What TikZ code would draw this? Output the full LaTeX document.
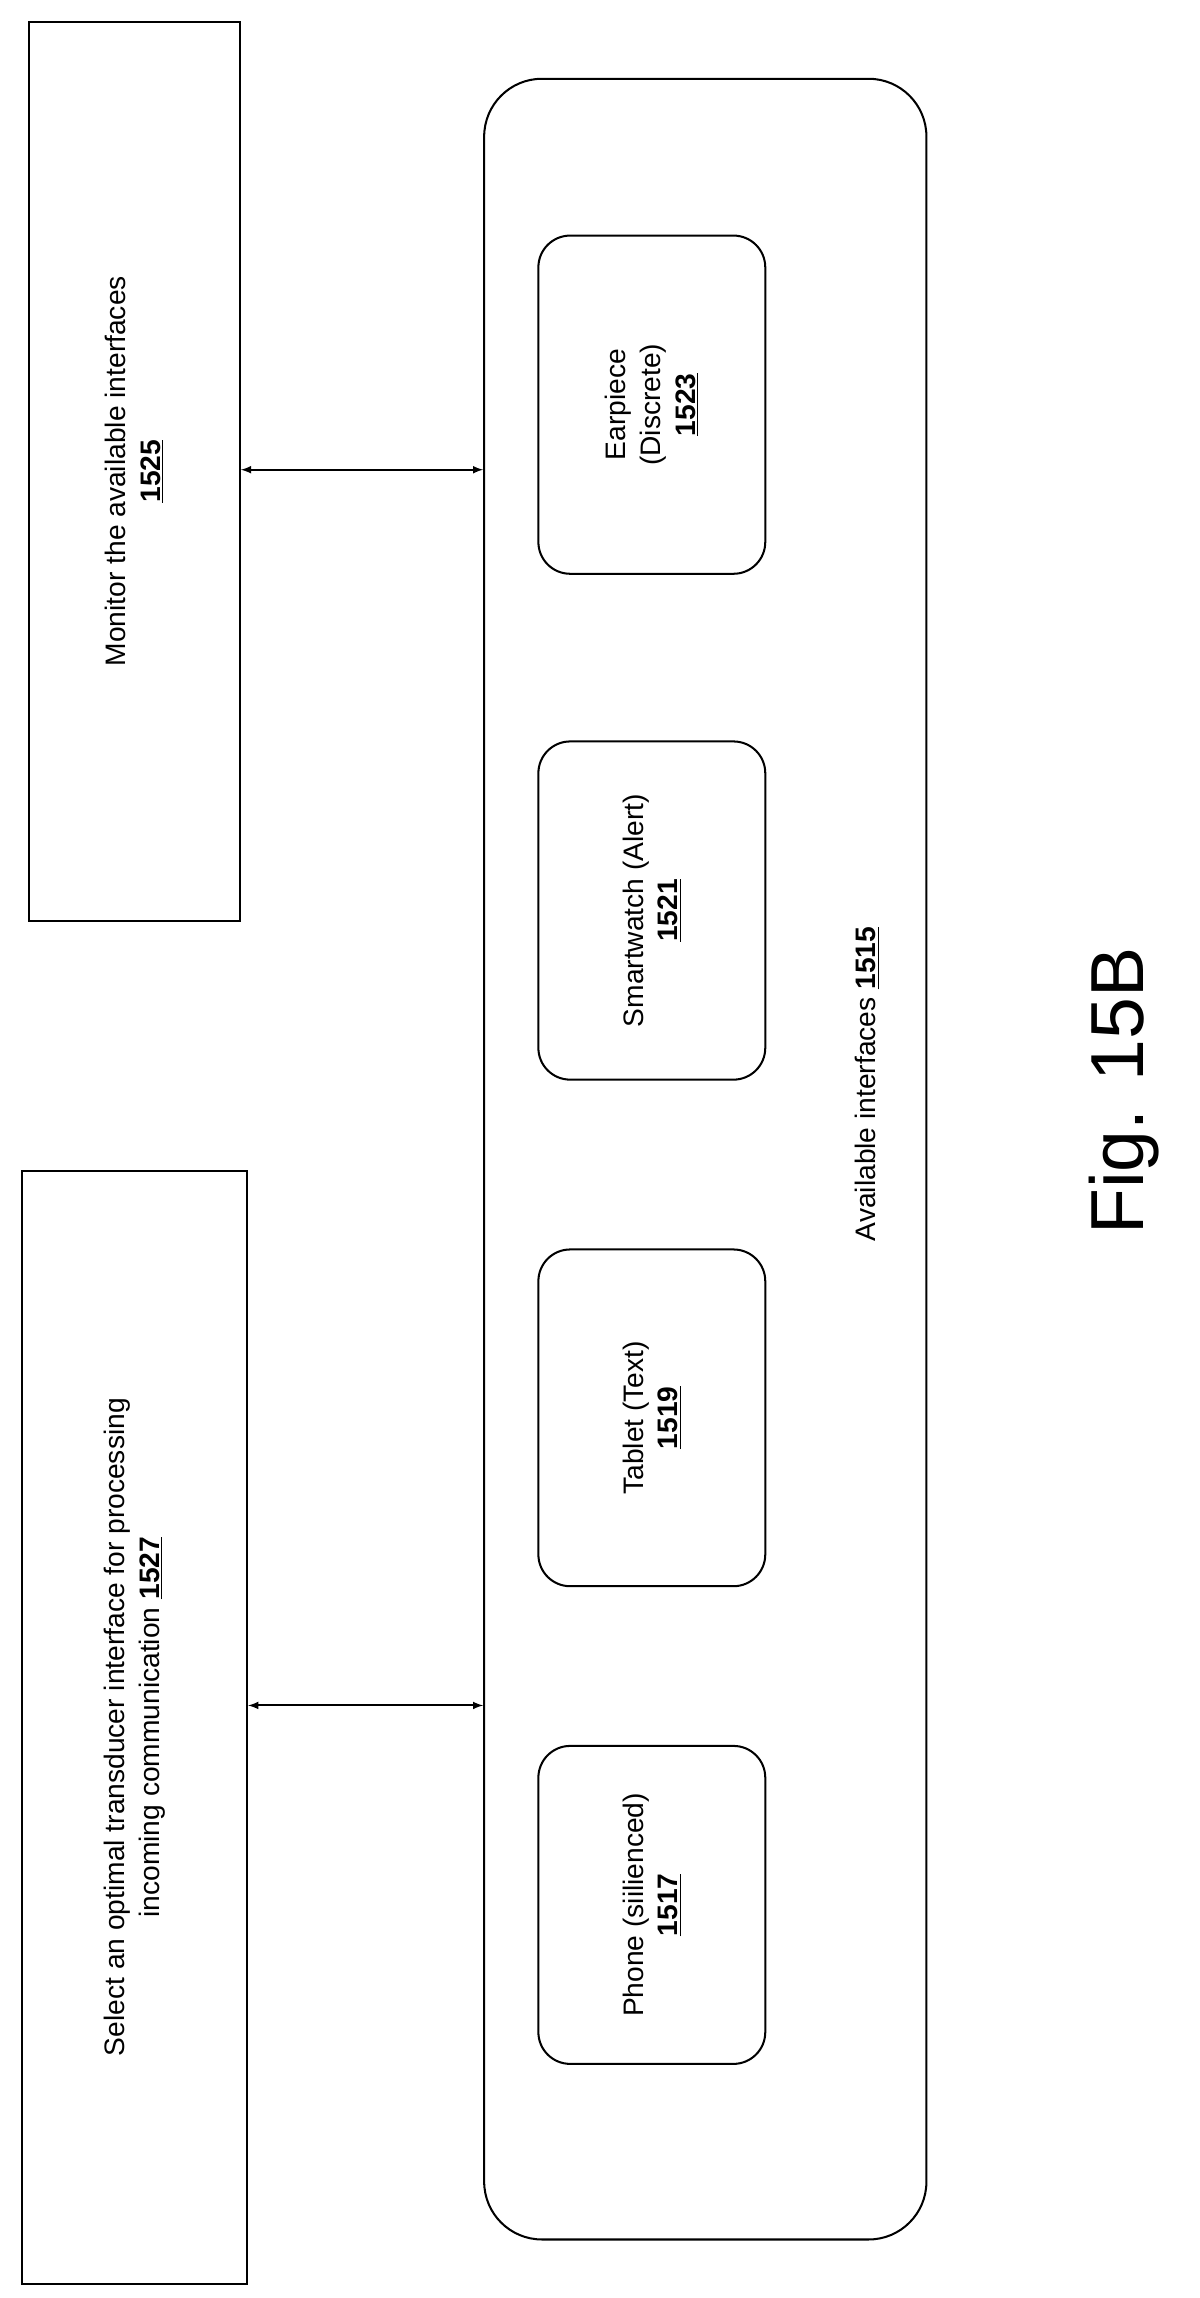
\documentclass[tikz,border=0pt]{standalone}
\usepackage{fontspec}
\setmainfont{Liberation Sans}
\begin{document}
\begin{tikzpicture}[x=1pt,y=-1pt,
  box/.style={draw,line width=1.4pt},
  rbox/.style={draw,line width=1.4pt,rounded corners=22pt},
  lbl/.style={rotate=90,align=center,font=\fontsize{19.5}{24}\selectfont},
  dbl/.style={<->,line width=1.4pt,>=latex}]
\useasboundingbox (0,0) rectangle (830,1590);
\node[box,minimum width=146pt,minimum height=622pt] (m) at (93,326) {};
\node[lbl] at (m) {Monitor the available interfaces\\\textbf{\underline{1525}}};
\node[box,minimum width=156pt,minimum height=770pt] (s) at (93,1195) {};
\node[lbl] at (s) {Select an optimal transducer interface for processing\\incoming communication \textbf{\underline{1527}}};
\node[draw,line width=1.4pt,rounded corners=40pt,minimum width=306pt,minimum height=1495pt] (a) at (488,802) {};
\node[lbl] at (600,750) {Available interfaces \textbf{\underline{1515}}};
\node[rbox,minimum width=157pt,minimum height=234pt] (e) at (451,280) {};
\node[lbl] at (e) {Earpiece\\(Discrete)\\\textbf{\underline{1523}}};
\node[rbox,minimum width=157pt,minimum height=234pt] (w) at (451,630) {};
\node[lbl] at (w) {Smartwatch (Alert)\\\textbf{\underline{1521}}};
\node[rbox,minimum width=157pt,minimum height=233pt] (t) at (451,981) {};
\node[lbl] at (t) {Tablet (Text)\\\textbf{\underline{1519}}};
\node[rbox,minimum width=157pt,minimum height=220pt] (p) at (451,1318) {};
\node[lbl] at (p) {Phone (siilienced)\\\textbf{\underline{1517}}};
\draw[dbl] (m.east |- 0,325) -- (a.west |- 0,325);
\draw[dbl] (s.east |- 0,1180) -- (a.west |- 0,1180);
\node[rotate=90,font=\fontsize{52}{56}\selectfont] at (778,755) {Fig. 15B};
\end{tikzpicture}
\end{document}
